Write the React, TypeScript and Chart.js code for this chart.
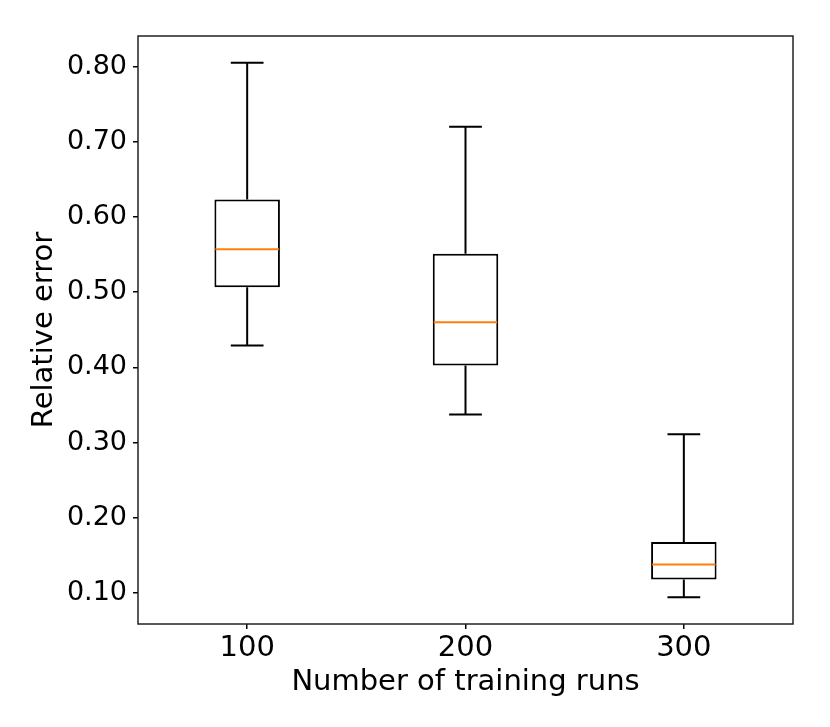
import { useEffect, useRef } from "react"
import { Chart, registerables } from "chart.js"

Chart.register(...registerables)

const runs = ["100", "200", "300"]
const whiskerLow = [0.429, 0.3375, 0.0944]
const q1 = [0.5065, 0.4025, 0.118]
const medians = [0.557, 0.46, 0.138]
const q3 = [0.6234, 0.551, 0.168]
const whiskerHigh = [0.805, 0.72, 0.311]
const yTicks = [0.1, 0.2, 0.3, 0.4, 0.5, 0.6, 0.7, 0.8]

const family = "'DejaVu Sans', sans-serif"

// whiskers, caps and medians on top of the floating bars
const boxPlugin = {
  id: "boxWhiskers",
  afterDatasetsDraw(chart: any) {
    const { ctx, scales } = chart
    const meta = chart.getDatasetMeta(0)
    const y = scales.y
    ctx.save()
    ctx.lineCap = "butt"
    runs.forEach((_, i) => {
      const bar = meta.data[i]
      const x = scales.x.getPixelForValue(i)
      const half = bar.width / 2
      const cap = half / 2
      ctx.strokeStyle = "#000"
      ctx.lineWidth = 2
      ctx.beginPath()
      ctx.moveTo(x, y.getPixelForValue(q3[i]))
      ctx.lineTo(x, y.getPixelForValue(whiskerHigh[i]))
      ctx.moveTo(x, y.getPixelForValue(q1[i]))
      ctx.lineTo(x, y.getPixelForValue(whiskerLow[i]))
      ctx.moveTo(x - cap, y.getPixelForValue(whiskerHigh[i]))
      ctx.lineTo(x + cap, y.getPixelForValue(whiskerHigh[i]))
      ctx.moveTo(x - cap, y.getPixelForValue(whiskerLow[i]))
      ctx.lineTo(x + cap, y.getPixelForValue(whiskerLow[i]))
      ctx.stroke()
      ctx.strokeStyle = "#ff7f0e"
      ctx.beginPath()
      ctx.moveTo(x - half + 1, y.getPixelForValue(medians[i]))
      ctx.lineTo(x + half - 1, y.getPixelForValue(medians[i]))
      ctx.stroke()
    })
    ctx.restore()
  },
  afterDraw(chart: any) {
    const { ctx, chartArea } = chart
    ctx.save()
    ctx.strokeStyle = "#222"
    ctx.lineWidth = 1.5
    ctx.strokeRect(chartArea.left, chartArea.top, chartArea.right - chartArea.left, chartArea.bottom - chartArea.top)
    ctx.restore()
  },
}

export default function App() {
  const canvasRef = useRef<HTMLCanvasElement | null>(null)

  useEffect(() => {
    document.body.style.margin = "0"
    if (!canvasRef.current) return
    const ctx = canvasRef.current.getContext("2d")
    if (!ctx) return

    const tickGrid = {
      display: true,
      drawOnChartArea: false,
      drawTicks: true,
      tickLength: 5,
      color: "#000",
      lineWidth: 1.5,
      offset: false,
    }

    const chart = new Chart(ctx, {
      type: "bar",
      data: {
        labels: runs,
        datasets: [
          {
            data: q1.map((v, i) => [v, q3[i]]),
            backgroundColor: "#fff",
            borderColor: "#000",
            borderWidth: 2,
            borderSkipped: false,
            categoryPercentage: 1,
            barPercentage: 0.3,
          },
        ],
      },
      options: {
        animation: false,
        responsive: true,
        maintainAspectRatio: false,
        layout: { padding: { top: 36, right: 37, bottom: 0, left: 0 } },
        plugins: {
          legend: { display: false },
          tooltip: { enabled: false },
        },
        scales: {
          x: {
            offset: true,
            grid: tickGrid,
            border: { display: false },
            ticks: { color: "#000", font: { family, size: 29 }, padding: 2 },
            title: {
              display: true,
              text: "Number of training runs",
              color: "#000",
              font: { family, size: 29 },
              padding: { top: 0, bottom: 27 },
            },
            afterFit: (s: any) => {
              s.height = 103
            },
          },
          y: {
            min: 0.0589,
            max: 0.8406,
            grid: tickGrid,
            border: { display: false },
            afterBuildTicks: (s: any) => {
              s.ticks = yTicks.map((v) => ({ value: v }))
            },
            ticks: {
              color: "#000",
              font: { family, size: 27 },
              padding: 6,
              callback: (v: any) => Number(v).toFixed(2),
            },
            title: {
              display: true,
              text: "Relative error",
              color: "#000",
              font: { family, size: 29 },
              padding: { top: 27, bottom: 0 },
            },
            afterFit: (s: any) => {
              s.width = 138
            },
          },
        },
      },
      plugins: [boxPlugin],
    })

    return () => {
      chart.destroy()
    }
  }, [])

  return (
    <div style={{ width: 830, height: 727 }}>
      <canvas ref={canvasRef}></canvas>
    </div>
  )
}
